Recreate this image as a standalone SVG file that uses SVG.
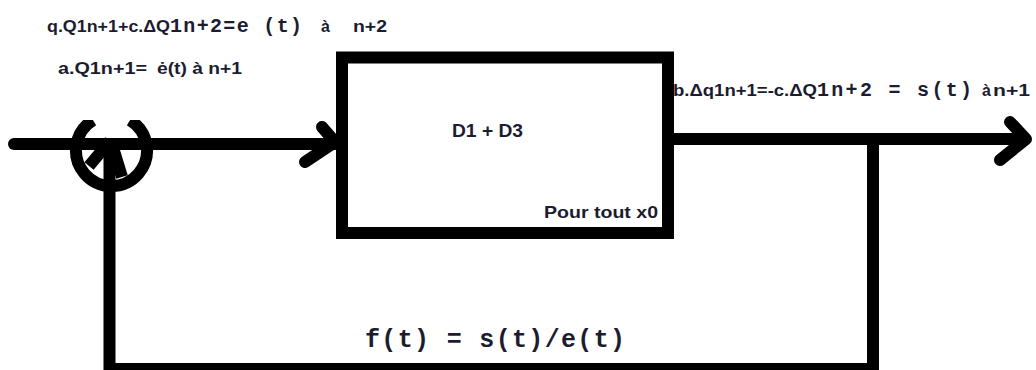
<svg xmlns="http://www.w3.org/2000/svg" width="1036" height="370" viewBox="0 0 1036 370">
<style>
.ln{stroke:#000;stroke-width:12;fill:none}
.sans{font-family:"Liberation Sans",Arial,sans-serif;font-weight:bold;fill:#1c1c30}
.mono{font-family:"Liberation Mono","Courier New",monospace;font-weight:bold;fill:#1c1c30}
</style>
<defs>
<clipPath id="cc"><rect x="60" y="120" width="110" height="90"/></clipPath>
</defs>
<rect width="1036" height="370" fill="#fff"/>
<g id="connectors">
<line class="ln" x1="14" y1="144" x2="335" y2="144" stroke-linecap="round"/>
<path class="ln" d="M322 127 L335 142 L305 162" stroke-width="10" stroke-linecap="round" stroke-linejoin="round"/>
<line class="ln" x1="674" y1="139" x2="1025" y2="139"/>
<path class="ln" d="M1010 122 L1026 139 L1000 160" stroke-width="10" stroke-linecap="round" stroke-linejoin="round"/>
<polyline class="ln" points="873,139 873,369 109.5,369 109.5,138"/>
</g>
<g id="junction">
<path class="ln" clip-path="url(#cc)" d="M93 120.2 A35.5 35.5 0 1 0 130 120.2"/>
<line class="ln" x1="110" y1="141" x2="89" y2="166" stroke-width="8"/>
<line class="ln" x1="111" y1="141" x2="122" y2="177" stroke-width="8"/>
</g>
<g id="block">
<rect class="ln" x="342" y="57.5" width="326" height="175.5"/>
<text class="sans" x="452" y="137" font-size="18" textLength="71" lengthAdjust="spacingAndGlyphs">D1 + D3</text>
<text class="sans" x="544" y="218" font-size="17" textLength="114" lengthAdjust="spacingAndGlyphs">Pour tout x0</text>
</g>
<g id="labels">
<text class="sans" x="47" y="32" font-size="16" textLength="123" lengthAdjust="spacingAndGlyphs">q.Q1n+1+c.ΔQ</text>
<text class="mono" x="170" y="32" font-size="20" textLength="132" lengthAdjust="spacing">1n+2=e (t)</text>
<text class="sans" x="321" y="32" font-size="16">à</text>
<text class="sans" x="353" y="32" font-size="16" textLength="34" lengthAdjust="spacingAndGlyphs">n+2</text>
<text class="sans" x="58" y="74" font-size="16" textLength="89" lengthAdjust="spacingAndGlyphs">a.Q1n+1=</text>
<text class="sans" x="157" y="74" font-size="16" textLength="85" lengthAdjust="spacingAndGlyphs">ė(t) à n+1</text>
<text class="sans" x="673" y="96" font-size="16" textLength="144" lengthAdjust="spacingAndGlyphs">b.Δq1n+1=-c.ΔQ</text>
<text class="mono" x="817" y="96" font-size="20" textLength="155" lengthAdjust="spacing">1n+2 = s(t)</text>
<text class="sans" x="982" y="96" font-size="16">à</text>
<text class="sans" x="993" y="96" font-size="16" textLength="37" lengthAdjust="spacingAndGlyphs">n+1</text>
<text class="mono" x="365" y="347" font-size="25" textLength="260" lengthAdjust="spacing">f(t) = s(t)/e(t)</text>
</g>
</svg>
